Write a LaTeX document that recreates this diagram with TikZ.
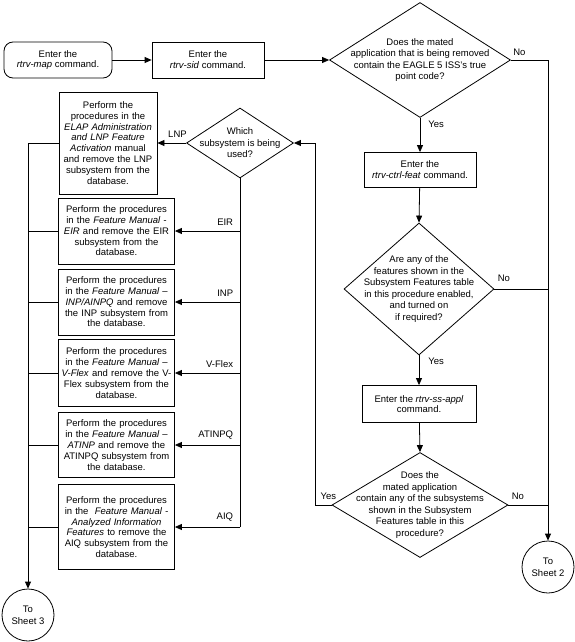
\documentclass[tikz,border=0pt]{standalone}
\usepackage{fontspec}
\setmainfont{Liberation Sans}
\usetikzlibrary{positioning, arrows.meta, shapes.geometric, calc}
\tikzset{
  % Boxes
  process/.style={
    draw, rectangle, align=center, line width=0.8pt,
    inner sep=2pt, font=\fontsize{9.5}{10.8}\selectfont
  },
  startbox/.style={
    process, rounded corners=9pt
  },
  % Decision diamonds (text set in a separate node)
  decision/.style={
    draw, diamond, line width=0.8pt, inner sep=0pt
  },
  dtext/.style={
    align=center, inner sep=0pt, font=\fontsize{9.5}{11.6}\selectfont
  },
  % Off-page connectors
  offpage/.style={
    draw, circle, align=center, line width=0.8pt, inner sep=0pt,
    minimum size=52pt, font=\fontsize{9.5}{12}\selectfont
  },
  % Lines
  line/.style={draw, line width=0.8pt},
  flow/.style={
    line, ->, >={Triangle[length=7pt, width=6pt]}
  },
  answer/.style={
    inner sep=0pt, font=\fontsize{9.5}{11}\selectfont
  },
  branchlabel/.style={
    answer, pos=0.1, anchor=south east, yshift=5pt
  },
}

\begin{document}
\begin{tikzpicture}[x=1pt, y=-1pt]
  \useasboundingbox (0,0) rectangle (575,642);

  %% ── Main column ──
  \node[startbox, minimum width=108pt, minimum height=36pt] (rtrvmap) at (58,60)
    {Enter the\\\textit{rtrv-map} command.};
  \node[process, minimum width=112pt, minimum height=36pt] (rtrvsid) at (208,60)
    {Enter the\\\textit{rtrv-sid} command.};
  \node[decision, minimum width=181pt, minimum height=115pt] (truepc) at (420,60) {};
  \node[dtext] (truepc-txt) at (truepc)
    {Does the mated\\application that is being removed\\contain the EAGLE 5 ISS’s true\\point code?};
  \node[process, minimum width=112pt, minimum height=35pt] (ctrlfeat) at (420,170)
    {Enter the\\\textit{rtrv-ctrl-feat} command.};
  \node[decision, minimum width=150pt, minimum height=132pt] (featon) at (419,289) {};
  \node[dtext] (featon-txt) at (featon)
    {Are any of the\\features shown in the\\Subsystem Features table\\in this procedure enabled,\\and turned on\\if required?};
  \node[process, minimum width=114pt, minimum height=37pt] (ssappl) at (419,404)
    {Enter the \textit{rtrv-ss-appl}\\command.};
  \node[decision, minimum width=176pt, minimum height=105pt] (ssmated) at (420,505) {};
  \node[dtext] (ssmated-txt) at (ssmated)
    {Does the\\mated application\\contain any of the subsystems\\shown in the Subsystem\\Features table in this\\procedure?};
  \node[offpage] (sheet2) at (548,567) {To\\Sheet 2};

  %% ── Subsystem branch ──
  \node[decision, minimum width=107pt, minimum height=70pt] (which) at (240,143) {};
  \node[dtext] (which-txt) at (which) {Which\\subsystem is being\\used?};
  \coordinate (back) at (315,143);

  \node[process, text width=94pt, minimum height=102pt] (lnp) at (108,143)
    {Perform the\\procedures in the\\\textit{ELAP Administration}\\\textit{and LNP Feature}\\\textit{Activation} manual\\and remove the LNP\\subsystem from the\\database.};
  \node[process, text width=112pt, minimum height=66pt] (eir) at (116.5,231)
    {Perform the procedures\\in the \textit{Feature Manual -}\\\textit{EIR} and remove the EIR\\subsystem from the\\database.};
  \node[process, text width=112pt, minimum height=66pt] (inp) at (116.5,302)
    {Perform the procedures\\in the \textit{Feature Manual –}\\\textit{INP/AINPQ} and remove\\the INP subsystem from\\the database.};
  \node[process, text width=112pt, minimum height=67pt] (vflex) at (116.5,373)
    {Perform the procedures\\in the \textit{Feature Manual –}\\\textit{V-Flex} and remove the V-\\Flex subsystem from the\\database.};
  \node[process, text width=112pt, minimum height=65pt] (atinp) at (116.5,445)
    {Perform the procedures\\in the \textit{Feature Manual –}\\\textit{ATINP} and remove the\\ATINPQ subsystem from\\the database.};
  \node[process, text width=112pt, minimum height=85pt] (aiq) at (116.5,527)
    {Perform the procedures\\in the \ \textit{Feature Manual -}\\\textit{Analyzed Information}\\\textit{Features} to remove the\\AIQ subsystem from the\\database.};
  \node[offpage] (sheet3) at (28,615) {To\\Sheet 3};

  %% ── Connectors: main column ──
  \draw[flow] (rtrvmap) -- (rtrvsid);
  \draw[flow] (rtrvsid) -- (truepc.west);
  \draw[flow] (truepc.south) -- node[answer, pos=0, anchor=north west, xshift=8pt, yshift=-3pt] {Yes} (ctrlfeat);
  \draw[flow] (ctrlfeat) -- (featon.north);
  \draw[flow] (featon.south) -- node[answer, pos=0, anchor=north west, xshift=9pt, yshift=-2pt] {Yes} (ssappl);
  \draw[flow] (ssappl) -- (ssmated.north);

  % No answers
  \draw[flow] (truepc.east) -- node[answer, pos=0, anchor=south west, xshift=2pt, yshift=4pt] {No}
    (truepc.east -| sheet2) -- (sheet2);
  \draw[line] (featon.east) -- node[answer, pos=0, anchor=south west, xshift=3pt, yshift=7pt] {No}
    (featon.east -| sheet2);
  \draw[line] (ssmated.east) -- node[answer, pos=0, anchor=south west, xshift=3pt, yshift=5pt] {No}
    (ssmated.east -| sheet2);

  % Yes: back to the subsystem question
  \draw[flow] (ssmated.west) -- node[answer, pos=0, anchor=south east, xshift=5pt, yshift=5pt] {Yes}
    (ssmated.west -| back) -- (back) -- (which.east);

  %% ── Connectors: subsystem branch ──
  \draw[flow] (which.west) -- node[answer, pos=0, anchor=south east, xshift=1pt, yshift=5pt] {LNP} (lnp);
  \draw[line] (which.south) -- (which.south |- aiq.east);
  \draw[flow] (which.south |- eir.east) -- node[branchlabel] {EIR} (eir);
  \draw[flow] (which.south |- inp.east) -- node[branchlabel] {INP} (inp);
  \draw[flow] (which.south |- vflex.east) -- node[branchlabel] {V-Flex} (vflex);
  \draw[flow] (which.south |- atinp.east) -- node[branchlabel] {ATINPQ} (atinp);
  \draw[flow] (which.south |- aiq.east) -- node[branchlabel] {AIQ} (aiq);

  % Merge to sheet 3
  \draw[flow] (lnp.west) -| (sheet3);
  \foreach \b in {eir, inp, vflex, atinp, aiq}
    \draw[line] (\b.west) -- (\b.west -| sheet3);

\end{tikzpicture}
\end{document}
